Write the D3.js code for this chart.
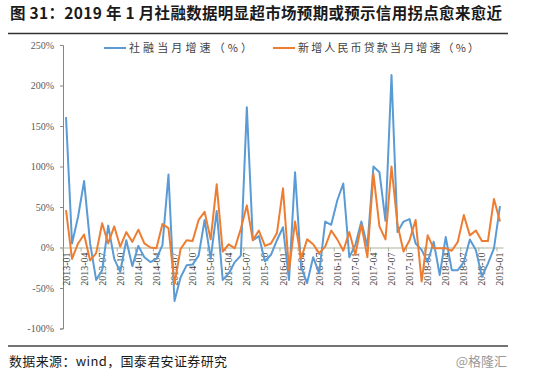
<!DOCTYPE html>
<html>
<head>
<meta charset="utf-8">
<script src="https://cdn.jsdelivr.net/npm/d3@7"></script>
<style>
  body { margin: 0; background: #fff; }
  svg { display: block; }
</style>
</head>
<body>
<div id="chart"></div>
<script>
// months shown on the category axis (every 3rd month is labelled)
const tickLabels = ['2013-01','2013-04','2013-07','2013-10','2014-01','2014-04','2014-07','2014-10',
  '2015-01','2015-04','2015-07','2015-10','2016-01','2016-04','2016-07','2016-10',
  '2017-01','2017-04','2017-07','2017-10','2018-01','2018-04','2018-07','2018-10','2019-01'];

// 社融当月增速 (%), 2013-01 .. 2019-01
const tsfGrowth = [161, 5, 38, 82, 5, -40, -28, 27, -14, -30, 9, -23, 2, -12, -18, -14, 3, 90,
  -66, -37, -22, -21, -10, 34, -14, 45, -40, -32, -18, -10, 173, 9, 14, -17, -9, 9,
  25, -40, 93, -24, -44, -12, -32, 32, 28, 58, 79, -12, 3, 32, 1, 100, 93, 33,
  213, 19, 32, 35, 5, -3, -18, 7, -34, 13, -28, -28, -18, 10, -3, -36, -20, -1, 51];

// 新增人民币贷款当月增速 (%), 2013-01 .. 2019-01
const loanGrowth = [46, -14, 5, 16, -16, -7, 30, 5, 26, 1, 19, 7, 22, 5, 0, -1, 29, 24,
  -45, -2, 9, 8, 34, 44, 10, 78, -5, 4, -1, 23, 52, 9, 21, 2, 5, 18,
  73, -28, 32, -14, 10, 4, -7, 1, 21, 10, -4, 19, -9, 28, -12, 91, 26, 10,
  100, 28, -5, 9, 34, -42, 15, -1, -1, -1, -4, 7, 40, 15, 21, 8, 8, 60, 32];

const yTicks = [-100, -50, 0, 50, 100, 150, 200, 250];
const seriesNames = ['社融当月增速（%）', '新增人民币贷款当月增速（%）'];
const seriesColors = ['#5B9BD5', '#ED7D31'];

const W = 541, H = 374;
const fmt = d3.timeFormat('%Y-%m');
const months = d3.timeMonth.range(new Date(2013, 0, 1), new Date(2019, 1, 1)).map(fmt);

const svg = d3.select('#chart').append('svg')
    .attr('width', W)
    .attr('height', H);

// title + rule
svg.append('text')
    .attr('x', 10)
    .attr('y', 19)
    .attr('textLength', 492)
    .attr('lengthAdjust', 'spacing')
    .style('font-family', '"Noto Sans CJK SC", sans-serif')
    .style('font-weight', 'bold')
    .style('font-size', '15.5px')
    .style('fill', '#1a1a1a')
    .text('图 31：2019 年 1 月社融数据明显超市场预期或预示信用拐点愈来愈近');

svg.append('line')
    .attr('x1', 8).attr('x2', 508)
    .attr('y1', 33.5).attr('y2', 33.5)
    .attr('stroke', '#333').attr('stroke-width', 1.5);

// scales
const x = d3.scaleBand()
    .domain(months)
    .range([63, 503]);

const y = d3.scaleLinear()
    .domain([-100, 250])
    .range([328.5, 45]);

const cx = d => x(d) + x.bandwidth() / 2;

// y axis
const yAxis = d3.axisLeft(y)
    .tickValues(yTicks)
    .tickSize(3)
    .tickPadding(6)
    .tickFormat(d => d + '%');

const yAxisG = svg.append('g')
    .attr('transform', 'translate(63,0)')
    .call(yAxis);

yAxisG.select('.domain').attr('stroke', '#868686');
yAxisG.selectAll('.tick line').attr('stroke', '#868686');
yAxisG.selectAll('.tick text')
    .style('font-family', '"Liberation Serif", serif')
    .style('font-size', '10px')
    .style('fill', '#595959');

// x axis sits on the zero line
const xAxis = d3.axisBottom(x)
    .tickValues(tickLabels)
    .tickSize(0)
    .tickSizeOuter(0);

const xAxisG = svg.append('g')
    .attr('transform', `translate(0,${y(0)})`)
    .call(xAxis);

xAxisG.select('.domain').attr('stroke', '#aab39c').attr('stroke-width', 1);
xAxisG.selectAll('.tick text')
    .attr('transform', 'rotate(-90)')
    .attr('x', -5)
    .attr('y', 0)
    .attr('dy', '0.35em')
    .style('text-anchor', 'end')
    .style('font-family', '"Liberation Serif", serif')
    .style('font-size', '10px')
    .style('fill', '#404040');

// small ticks on category boundaries
svg.append('g').selectAll('line')
    .data(tickLabels)
    .join('line')
    .attr('x1', d => x(d)).attr('x2', d => x(d))
    .attr('y1', y(0)).attr('y2', y(0) + 4)
    .attr('stroke', '#aab39c');

// lines
const line = d3.line()
    .x((d, i) => cx(months[i]))
    .y(d => y(d));

[tsfGrowth, loanGrowth].forEach((s, k) => {
  svg.append('path')
      .datum(s)
      .attr('fill', 'none')
      .attr('stroke', seriesColors[k])
      .attr('stroke-width', 2)
      .attr('stroke-linejoin', 'round')
      .attr('d', line);
});

// legend
const legendX = [104, 273];
const legendLen = [123, 181];
seriesNames.forEach((name, k) => {
  svg.append('line')
      .attr('x1', legendX[k]).attr('x2', legendX[k] + 22)
      .attr('y1', 48).attr('y2', 48)
      .attr('stroke', seriesColors[k])
      .attr('stroke-width', 2);
  svg.append('text')
      .attr('x', legendX[k] + 25)
      .attr('y', 52)
      .attr('textLength', legendLen[k])
      .attr('lengthAdjust', 'spacing')
      .style('font-family', '"Noto Sans CJK SC", sans-serif')
      .style('font-size', '11px')
      .style('fill', '#404040')
      .text(name);
});

// footer
svg.append('line')
    .attr('x1', 8).attr('x2', 508)
    .attr('y1', 346).attr('y2', 346)
    .attr('stroke', '#444').attr('stroke-width', 1.5);

svg.append('text')
    .attr('x', 9)
    .attr('y', 366)
    .attr('textLength', 218)
    .attr('lengthAdjust', 'spacing')
    .style('font-family', '"Noto Sans CJK SC", sans-serif')
    .style('font-size', '13px')
    .style('fill', '#1a1a1a')
    .text('数据来源：wind，国泰君安证券研究');

svg.append('text')
    .attr('x', 507)
    .attr('y', 366)
    .style('text-anchor', 'end')
    .style('font-family', '"Noto Sans CJK SC", sans-serif')
    .style('font-size', '13px')
    .style('fill', '#9a9a9a')
    .text('@格隆汇');
</script>
</body>
</html>
